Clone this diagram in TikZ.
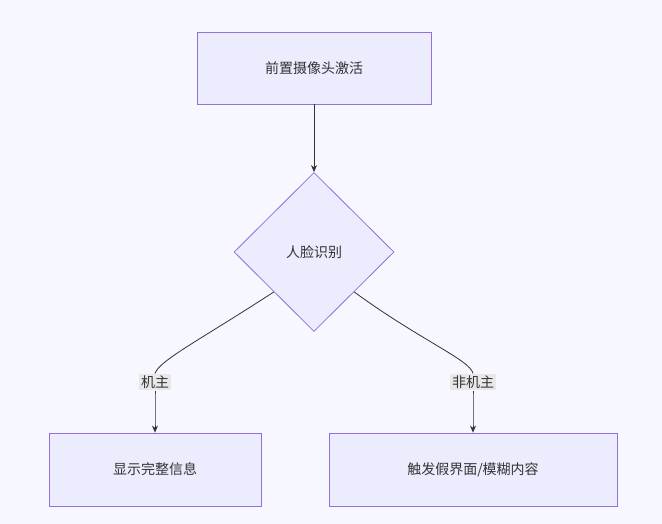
\documentclass[tikz,border=0pt]{standalone}
\usepackage{fontspec}
\newfontfamily\cjk{Noto Sans CJK SC}
\usetikzlibrary{shapes.geometric,arrows.meta}
\definecolor{boxfill}{HTML}{ECECFF}
\definecolor{boxline}{HTML}{9370DB}
\definecolor{inktext}{HTML}{333333}
\definecolor{labfill}{HTML}{E8E8E8}
\begin{document}
\begin{tikzpicture}[%
        x = 1pt, y = -1pt,
        every node/.style = {font = \cjk\fontsize{14}{17}\selectfont, text = inktext},
        flowbox/.style = {draw = boxline, fill = boxfill, line width = 0.8pt, inner sep = 0pt},
        edge/.style = {draw = inktext, line width = 0.8pt},
        tip/.style = {-{Stealth[length = 7pt, width = 6pt]}},
        tag/.style = {fill = labfill, inner sep = 2pt}
    ]
        % Background and bounding box.
        \fill[white!97!blue] (0, 0) rectangle (662, 524);
        \useasboundingbox (0, 0) rectangle (662, 524);

        % Steps of the flow.
        \node[flowbox, minimum width = 234pt, minimum height = 72pt] (Camera) at (314, 68) {前置摄像头激活};
        \node[flowbox, diamond, minimum width = 160pt, minimum height = 159pt] (Face) at (314, 252) {人脸识别};
        \node[flowbox, minimum width = 212pt, minimum height = 73pt] (Owner) at (155, 469.5) {显示完整信息};
        \node[flowbox, minimum width = 288pt, minimum height = 73pt] (Other) at (473, 469.5) {触发假界面/模糊内容};

        % Edge labels.
        \node[tag] (Yes) at (155, 382) {机主};
        \node[tag] (No) at (473, 382) {非机主};

        % Connectors.
        \draw[edge, tip] (Camera) -- (Face);
        \draw[edge] (Face.south west) .. controls (200, 340) and (160, 360) .. (Yes.north);
        \draw[edge, tip] (Yes.south) .. controls (155, 405) and (155, 415) .. (Owner.north);
        \draw[edge] (Face.south east) .. controls (420, 340) and (470, 360) .. (No.north);
        \draw[edge, tip] (No.south) .. controls (473, 405) and (473, 415) .. (Other.north);
    \end{tikzpicture}
\end{document}
